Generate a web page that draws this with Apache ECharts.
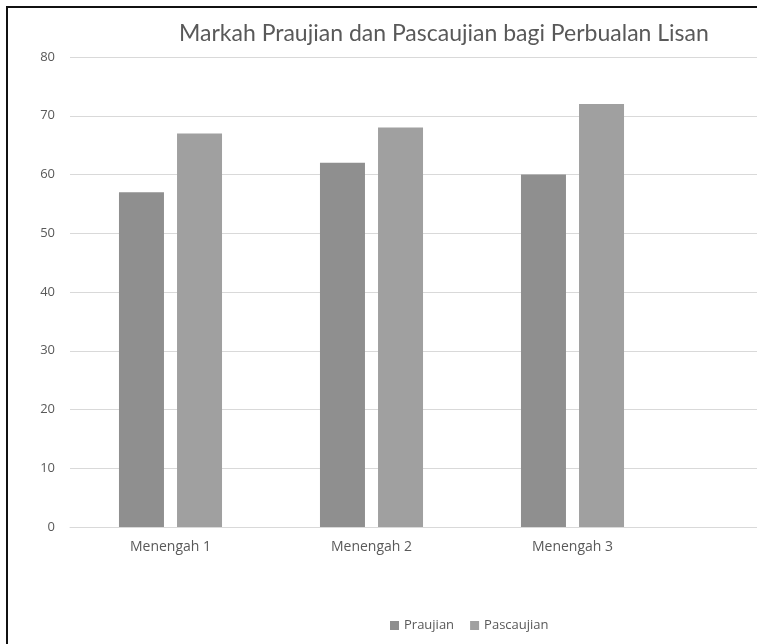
<!DOCTYPE html>
<html>
	<head>
		<meta charset="UTF-8">
		<title></title>
	</head>
	<style>
		*{
			padding:0;
			margin:0;
		}
		body{
			width:757px;
			height:644px;
			overflow:hidden;
			background:#fff;
			position:relative;
		}
		.frame{
			position:absolute;
			left:6px;
			top:6px;
			width:900px;
			height:700px;
			border-left:2px solid #111;
			border-top:2px solid #111;
			pointer-events:none;
		}
	</style>
	<body>
		<div id="bar" style="width:900px;height:644px;"></div>
		<div class="frame"></div>
	</body>
	<script type="text/javascript" src="https://cdn.jsdelivr.net/npm/echarts@6/dist/echarts.min.js"></script>
	<script>
		var kategori=["Menengah 1","Menengah 2","Menengah 3",""];
		var praujian=[57,62,60];
		var pascaujian=[67,68,72];
		var yTicks=[0,10,20,30,40,50,60,70,80];

		var chart=echarts.init(document.getElementById("bar"));
		var option={
			animation:false,
			title:{
				text:"Markah Praujian dan Pascaujian bagi Perbualan Lisan",
				left:174,
				top:17,
				textStyle:{
					color:"#595959",
					fontFamily:"Lato",
					fontWeight:"normal",
					fontSize:23
				}
			},
			legend:{
				left:385,
				top:614,
				itemWidth:9,
				itemHeight:9,
				itemGap:16,
				icon:"rect",
				textStyle:{
					color:"#595959",
					fontFamily:"Open Sans",
					fontSize:13
				},
				data:["Praujian","Pascaujian"]
			},
			grid:{
				left:70,
				top:57,
				width:804,
				height:470
			},
			xAxis:{
				type:"category",
				data:kategori,
				axisTick:{show:false},
				axisLine:{
					show:true,
					lineStyle:{color:"#d9d9d9",width:1}
				},
				axisLabel:{
					color:"#595959",
					fontFamily:"Open Sans",
					fontSize:14,
					margin:13
				}
			},
			yAxis:{
				type:"value",
				min:yTicks[0],
				max:yTicks[yTicks.length-1],
				interval:10,
				axisTick:{show:false},
				axisLine:{show:false},
				axisLabel:{
					color:"#595959",
					fontFamily:"Open Sans",
					fontSize:13,
					margin:15
				},
				splitLine:{
					lineStyle:{color:"#d9d9d9",width:1}
				}
			},
			series:[
				{
					name:"Praujian",
					type:"bar",
					barWidth:45,
					barGap:"29%",
					itemStyle:{color:"#8f8f8f"},
					data:praujian
				},
				{
					name:"Pascaujian",
					type:"bar",
					barWidth:45,
					barGap:"29%",
					itemStyle:{color:"#a0a0a0"},
					data:pascaujian
				}
			]
		};
		chart.setOption(option);
	</script>
</html>
